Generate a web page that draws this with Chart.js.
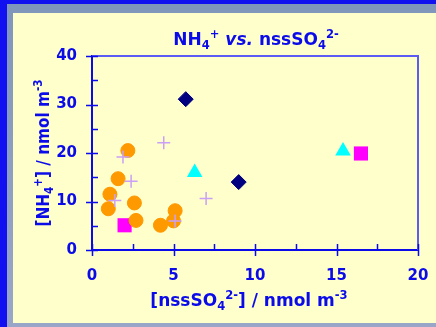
<!DOCTYPE html>
<html>
<head>
<meta charset="UTF-8">
<title>NH4+ vs. nssSO4 2-</title>
<script src="https://cdn.jsdelivr.net/npm/chart.js"></script>
<style>
  body { margin: 0; padding: 0; background: #8a9fc0; }
  canvas { display: block; }
</style>
</head>
<body>
<canvas id="grafico" width="436" height="327"></canvas>
<script>
// valores (nmol m-3)
const naranjaX = [2.2, 1.6, 1.1, 1.0, 2.6, 2.7, 4.2, 5.1, 5.0];
const naranjaY = [20.5, 14.7, 11.5, 8.5, 9.7, 6.1, 5.1, 8.1, 6.0];
const cruzX = [4.4, 1.9, 2.4, 1.4, 5.1, 7.0];
const cruzY = [22.1, 19.2, 14.2, 10.2, 6.0, 10.6];
const cuadroX = [2.0, 16.5];
const cuadroY = [5.1, 19.9];
const romboX = [5.75, 9.0];
const romboY = [31.1, 14.0];
const trianguloX = [6.3, 15.4];
const trianguloY = [16.0, 20.4];

const ticksX = [0, 5, 10, 15, 20];
const ticksY = [0, 10, 20, 30, 40];

// textos con sub/superindices
const titulo = [{t:'NH'},{t:'4',k:'sub'},{t:'+',k:'sup'},{t:' '},{t:'vs.',i:true},{t:' nssSO'},{t:'4',k:'sub'},{t:'2-',k:'sup'}];
const tituloX = [{t:'[nssSO'},{t:'4',k:'sub'},{t:'2-',k:'sup'},{t:'] / nmol m'},{t:'-3',k:'sup'}];
const tituloY = [{t:'[NH'},{t:'4',k:'sub'},{t:'+',k:'sup'},{t:'] / nmol m'},{t:'-3',k:'sup'}];

const AZUL = '#0b0bea';
const FUENTE = '"DejaVu Sans"';

function puntos(xs, ys) {
    return xs.map((x, i) => ({x: x, y: ys[i]}));
}

function fuente(p, size) {
    const s = p.k ? size * 0.68 : size;
    return (p.i ? 'italic ' : '') + 'bold ' + s + 'px ' + FUENTE;
}

function anchoTexto(ctx, partes, size) {
    let w = 0;
    for (const p of partes) {
        ctx.font = fuente(p, size);
        w += ctx.measureText(p.t).width;
    }
    return w;
}

function dibujaTexto(ctx, partes, x, y, size) {
    let cx = x;
    for (const p of partes) {
        ctx.font = fuente(p, size);
        const dy = p.k === 'sub' ? size * 0.22 : (p.k === 'sup' ? -size * 0.42 : 0);
        ctx.fillText(p.t, cx, y + dy);
        cx += ctx.measureText(p.t).width;
    }
}

const marco = {
    id: 'marco',
    beforeDraw(chart) {
        const ctx = chart.ctx;
        const W = chart.width, H = chart.height;
        ctx.save();
        const g = ctx.createLinearGradient(0, 0, 0, H);
        g.addColorStop(0, '#7f96ba');
        g.addColorStop(1, '#9aa6c8');
        ctx.fillStyle = g;
        ctx.fillRect(0, 0, W, H);
        ctx.fillStyle = '#1010f0';
        ctx.fillRect(0, 0, 7, H);
        ctx.fillRect(0, 0, W, 4);
        ctx.fillStyle = '#ffffcc';
        ctx.fillRect(13, 13, W - 13, 310);
        ctx.restore();
    },
    afterDraw(chart) {
        const ctx = chart.ctx;
        const a = chart.chartArea;
        const sx = chart.scales.x, sy = chart.scales.y;
        ctx.save();
        // borde superior y derecho
        ctx.strokeStyle = '#5c5cf5';
        ctx.lineWidth = 2;
        ctx.beginPath();
        ctx.moveTo(a.left, a.top);
        ctx.lineTo(a.right, a.top);
        ctx.lineTo(a.right, a.bottom);
        ctx.stroke();
        // marcas de los ejes
        ctx.strokeStyle = AZUL;
        ctx.lineWidth = 1.5;
        ctx.beginPath();
        for (let v = 0; v <= 20; v += 2.5) {
            const px = Math.round(sx.getPixelForValue(v)) + 0.5;
            const mayor = v % 5 === 0;
            ctx.moveTo(px, a.bottom - 6);
            ctx.lineTo(px, a.bottom + (mayor ? 6 : 0));
        }
        for (let v = 0; v <= 40; v += 5) {
            const py = Math.round(sy.getPixelForValue(v)) + 0.5;
            const mayor = v % 10 === 0;
            ctx.moveTo(a.left + 6, py);
            ctx.lineTo(a.left - (mayor ? 6 : 0), py);
        }
        ctx.stroke();
        // titulos
        ctx.fillStyle = AZUL;
        ctx.textBaseline = 'alphabetic';
        ctx.textAlign = 'left';
        let w = anchoTexto(ctx, titulo, 17);
        dibujaTexto(ctx, titulo, 256 - w / 2, 45, 17);
        w = anchoTexto(ctx, tituloX, 17);
        dibujaTexto(ctx, tituloX, 249 - w / 2, 306, 17);
        ctx.translate(49, 153);
        ctx.rotate(-Math.PI / 2);
        w = anchoTexto(ctx, tituloY, 17);
        ctx.scale(147 / w, 1);
        dibujaTexto(ctx, tituloY, -w / 2, 0, 17);
        ctx.restore();
    }
};

new Chart(document.getElementById('grafico'), {
    type: 'scatter',
    data: {
        datasets: [
            {
                label: 'cruz',
                data: puntos(cruzX, cruzY),
                pointStyle: 'cross',
                pointRadius: 6.5,
                borderColor: '#c9a0f5',
                borderWidth: 1.5
            },
            {
                label: 'naranja',
                data: puntos(naranjaX, naranjaY),
                pointStyle: 'circle',
                pointRadius: 7,
                backgroundColor: '#ff9900',
                borderColor: '#ff9900',
                borderWidth: 1
            },
            {
                label: 'triangulo',
                data: puntos(trianguloX, trianguloY),
                pointStyle: 'triangle',
                pointRadius: 9,
                backgroundColor: '#00ffff',
                borderColor: '#00ffff',
                borderWidth: 0
            },
            {
                label: 'rombo',
                data: puntos(romboX, romboY),
                pointStyle: 'rectRot',
                pointRadius: 7.5,
                backgroundColor: '#000080',
                borderColor: '#000080',
                borderWidth: 1
            },
            {
                label: 'cuadro',
                data: puntos(cuadroX, cuadroY),
                pointStyle: 'rect',
                pointRadius: 10,
                backgroundColor: '#ff00ff',
                borderColor: '#ff00ff',
                borderWidth: 0
            }
        ]
    },
    options: {
        responsive: false,
        animation: false,
        events: [],
        layout: { padding: { left: 0, top: 56, right: 18, bottom: 0 } },
        plugins: {
            legend: { display: false },
            tooltip: { enabled: false }
        },
        scales: {
            x: {
                type: 'linear',
                min: 0,
                max: 20,
                afterFit(scale) {
                    scale.height = 77;
                    scale.paddingLeft = 0;
                    scale.paddingRight = 0;
                },
                afterBuildTicks(scale) { scale.ticks = ticksX.map(v => ({value: v})); },
                grid: { display: false, drawTicks: false },
                border: { display: true, color: AZUL, width: 2 },
                ticks: {
                    padding: 17,
                    color: AZUL,
                    maxRotation: 0,
                    font: { family: 'DejaVu Sans', size: 15, weight: 'bold' }
                }
            },
            y: {
                type: 'linear',
                min: 0,
                max: 40,
                afterFit(scale) {
                    scale.width = 92;
                    scale.paddingTop = 0;
                    scale.paddingBottom = 0;
                },
                afterBuildTicks(scale) { scale.ticks = ticksY.map(v => ({value: v})); },
                grid: { display: false, drawTicks: false },
                border: { display: true, color: AZUL, width: 2 },
                ticks: {
                    padding: 15,
                    color: AZUL,
                    font: { family: 'DejaVu Sans', size: 15, weight: 'bold' }
                }
            }
        }
    },
    plugins: [marco]
});
</script>
</body>
</html>
